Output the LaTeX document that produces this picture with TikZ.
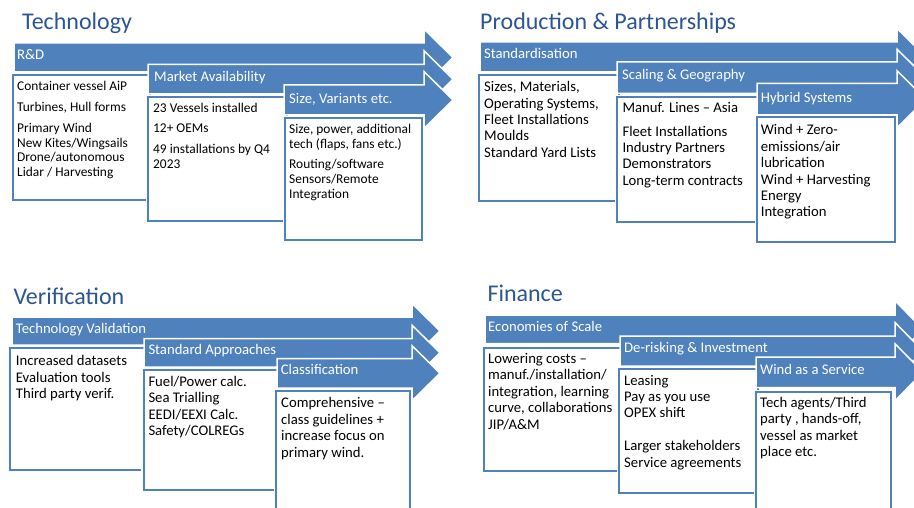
\documentclass[tikz,border=0pt]{standalone}
\usepackage{fontspec}
\setmainfont{Carlito}
\usepackage{tikz}

\definecolor{arrowblue}{HTML}{4F81BD}
\definecolor{boxblue}{HTML}{4F81BD}
\definecolor{titleblue}{HTML}{2B5693}

% bar with arrow head: left, top, bottom, neck, tip, half head
\newcommand{\stagearrow}[6]{%
  \pgfmathsetmacro{\arrowmid}{(#2+#3)/2}%
  \filldraw[stagefill] (#1,#2) -- (#4,#2) -- (#4,\arrowmid-#6) -- (#5,\arrowmid)
    -- (#4,\arrowmid+#6) -- (#4,#3) -- (#1,#3) -- cycle;}

\begin{document}
\begin{tikzpicture}[x=1pt, y=-1pt,
  stagefill/.style={fill=arrowblue, draw=white, line width=1.5pt},
  stagebox/.style={fill=white, draw=boxblue, line width=2pt, preaction={draw=white, line width=4.5pt}},
  heading/.style={anchor=base west, inner sep=0pt, text=titleblue, font=\fontsize{24}{28}\selectfont},
  barlabel/.style={anchor=base west, inner sep=0pt, text=white, font=\fontsize{14.7}{16}\selectfont},
  boxtext/.style={anchor=base west, inner sep=0pt, align=left, font=\fontsize{14.7}{16.4}\selectfont},
  smalltext/.style={boxtext, font=\fontsize{13.4}{14.7}\selectfont}]
  \useasboundingbox (0,0) rectangle (914,508);
  \clip (0,0) rectangle (914,508);

  % Technology (box texts placed by their last line)
  \node[heading] (tech) at (22,30) {Technology};
  \stagearrow{14}{43}{72}{424}{453}{28.5}
  \draw[stagebox] (13,75) rectangle (150,200);
  \stagearrow{148}{64.5}{94}{424}{453}{28.5}
  \draw[stagebox] (148,97) rectangle (287,221);
  \stagearrow{284}{85}{115}{424}{453}{28.5}
  \draw[stagebox] (285,118) rectangle (422,240);
  \node[barlabel] (rd) at (17,59.3) {R\&D};
  \node[barlabel] (market) at (154,81.7) {Market Availability};
  \node[barlabel] (variants) at (289,103.3) {Size, Variants etc.};
  \node[smalltext] (rdlist) at (17,176.5) {Container vessel AiP\\[6pt]Turbines, Hull forms\\[6pt]Primary Wind\\New Kites/Wingsails\\Drone/autonomous\\Lidar / Harvesting};
  \node[smalltext] (marketlist) at (153,168.3) {23 Vessels installed\\[6pt]12+ OEMs\\[6pt]49 installations by Q4\\2023};
  \node[smalltext] (variantslist) at (289,198.3) {Size, power, additional\\tech (flaps, fans etc.)\\[6pt]Routing/software\\Sensors/Remote\\Integration};

  % Production & Partnerships
  \node[heading] (prod) at (480,30) {Production \& Partnerships};
  \stagearrow{480}{42}{72}{897}{926}{28.5}
  \draw[stagebox] (479,75) rectangle (619,201);
  \stagearrow{617}{62}{93.5}{897}{926}{28.5}
  \draw[stagebox] (617,97) rectangle (759,222);
  \stagearrow{757}{83.5}{115}{897}{926}{28.5}
  \draw[stagebox] (757,117.5) rectangle (895,242);
  \node[barlabel] (std) at (484,58.3) {Standardisation};
  \node[barlabel] (scaling) at (622,80) {Scaling \& Geography};
  \node[barlabel] (hybrid) at (760.7,102.3) {Hybrid Systems};
  \node[boxtext] (stdlist) at (484,157.4) {Sizes, Materials,\\Operating Systems,\\Fleet Installations\\Moulds\\Standard Yard Lists};
  \node[boxtext] (scalinglist) at (622.3,185.4) {Manuf. Lines – Asia\\[7pt]Fleet Installations\\Industry Partners\\Demonstrators\\Long-term contracts};
  \node[boxtext] (hybridlist) at (760.7,217) {Wind + Zero-\\emissions/air\\lubrication\\Wind + Harvesting\\Energy\\Integration};

  % Verification
  \node[heading] (verif) at (13.3,305) {Verification};
  \stagearrow{12}{317}{345}{412}{440}{27.5}
  \draw[stagebox] (10,347.5) rectangle (145.5,470);
  \stagearrow{144}{338.5}{367}{412}{440}{27.5}
  \draw[stagebox] (143.5,369.5) rectangle (278,490);
  \stagearrow{277}{358.5}{388}{412}{440}{27.5}
  \draw[stagebox] (276,391) rectangle (409.5,520);
  \node[barlabel] (validation) at (15.7,333) {Technology Validation};
  \node[barlabel] (approaches) at (148.3,354.5) {Standard Approaches};
  \node[barlabel] (class) at (280.7,374.7) {Classification};
  \node[boxtext] (validationlist) at (15.7,398.7) {Increased datasets\\Evaluation tools\\Third party verif.};
  \node[boxtext] (approacheslist) at (148.3,435.4) {Fuel/Power calc.\\Sea Trialling\\EEDI/EEXI Calc.\\Safety/COLREGs};
  \node[boxtext] (classlist) at (281,457) {Comprehensive –\\class guidelines +\\increase focus on\\primary wind.};

  % Finance
  \node[heading] (fin) at (487.3,301.7) {Finance};
  \stagearrow{485}{315}{343.5}{895}{923}{28.5}
  \draw[stagebox] (483.5,347.5) rectangle (621,471);
  \stagearrow{620}{336}{366}{895}{923}{28.5}
  \draw[stagebox] (619,368.5) rectangle (758,492.5);
  \stagearrow{756}{357}{387.5}{895}{923}{28.5}
  \draw[stagebox] (756,392) rectangle (891,520);
  \node[barlabel] (scale) at (488,331.4) {Economies of Scale};
  \node[barlabel] (derisk) at (624,352) {De-risking \& Investment};
  \node[barlabel] (service) at (760,374) {Wind as a Service};
  \node[boxtext] (scalelist) at (488,429) {Lowering costs –\\manuf./installation/\\integration, learning\\curve, collaborations\\JIP/A\&M};
  \node[boxtext] (derisklist) at (624,467) {Leasing\\Pay as you use\\OPEX shift\\[16.4pt]Larger stakeholders\\Service agreements};
  \node[boxtext] (servicelist) at (760,456.4) {Tech agents/Third\\party , hands-off,\\vessel as market\\place etc.};
\end{tikzpicture}
\end{document}
